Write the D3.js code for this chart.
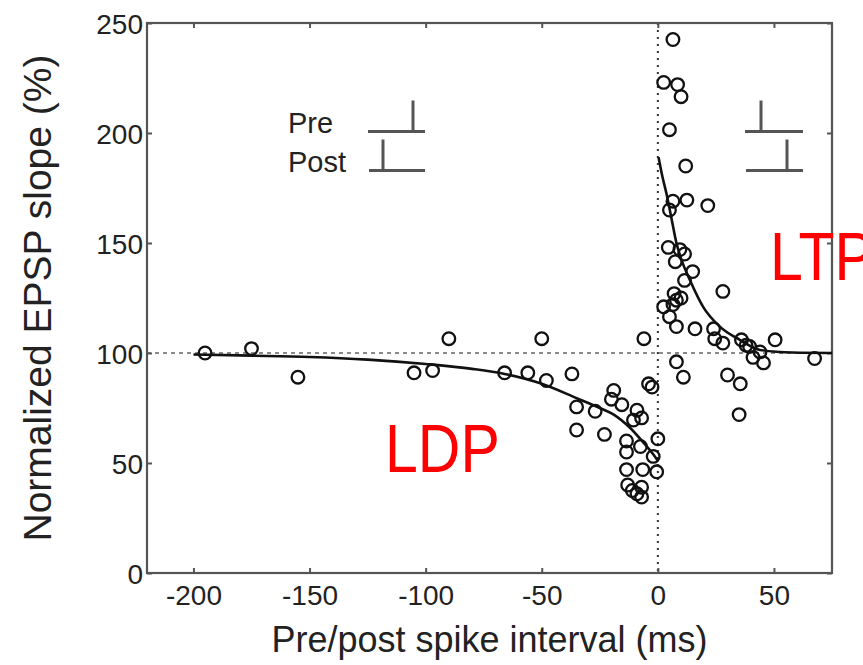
<!DOCTYPE html>
<html>
<head>
<meta charset="utf-8">
<script src="https://cdn.jsdelivr.net/npm/d3@7"></script>
<style>
  html, body { margin: 0; padding: 0; background: #fff; }
  svg { display: block; }
  text { font-family: "Liberation Sans", Arial, Helvetica, sans-serif; }
</style>
</head>
<body>
<svg id="chart" width="863" height="665"></svg>
<script>
// Spike-timing dependent plasticity: EPSP change vs. pre/post spike interval

// Individual experiments, negative intervals (post before pre)
const ldpInterval = [-195, -175, -155, -105, -97, -90, -66, -56, -48, -50, -37, -35, -35, -27, -23,
  -19, -20, -15.5, -13.5, -13.5, -13.5, -13, -9, -10.5, -7, -7.5, -6.5, -7, -9, -7, -6, -4, -2.5,
  -2, -0.5, 0, -11];
const ldpSlope = [100, 102, 89, 91, 92, 106.5, 91, 91, 87.5, 106.5, 90.5, 75.5, 65, 73.5, 63,
  83, 79, 76.5, 60, 55, 47, 40, 74, 69.5, 70.5, 57.5, 47, 39, 36, 34.5, 106.5, 86, 84.5,
  53, 46, 61, 37.5];

// Individual experiments, positive intervals (pre before post)
const ltpInterval = [6.5, 2.5, 8.5, 10, 5, 12, 21.5, 6.5, 12.5, 5, 4.5, 9.5, 11.5, 7.5, 15, 11.5,
  28, 8, 6.5, 2.5, 5, 8, 16, 24, 24.5, 28, 36, 39.5, 44, 45.5, 50.5, 67.5, 8, 11, 30, 35.5, 35,
  41, 38, 10, 7];
const ltpSlope = [242.5, 223, 222, 216.5, 201.5, 185, 167, 169, 169.5, 165, 148, 147, 145, 141.5,
  137, 133, 128, 124, 122, 121, 116.5, 112, 111, 111, 106.5, 104.5, 106, 103, 100.5, 95.5, 106,
  97.5, 96, 89, 90, 86, 72, 98, 103.5, 125, 127];

// Fitted curves
const ldpFitX = [-200, -175, -150, -125, -100, -80, -66, -50, -35, -25, -19, -12, -6, -2, 0];
const ldpFitY = [99.3, 98.8, 98.2, 97, 95, 92.8, 90.5, 86, 79.5, 75, 72, 66, 59, 54, 51];
const ltpFitX = [0.3, 2, 3.7, 6, 8, 10.2, 13.8, 19.5, 26.7, 35.3, 44, 58, 75];
const ltpFitY = [189, 180, 172.5, 160.5, 150, 142.3, 133.2, 121, 112, 106, 101.4, 100.2, 100];

// Axis ticks
const xTicks = [-200, -150, -100, -50, 0, 50];
const xTickLabels = ["-200", "-150", "-100", "-50", "0", "50"];
const yTicks = [0, 50, 100, 150, 200, 250];
const yTickLabels = ["0", "50", "100", "150", "200", "250"];

const svg = d3.select("#chart");
const plotLeft = 147, plotRight = 832, plotTop = 23, plotBottom = 573;

const x = d3.scaleLinear().domain([-220, 75]).range([plotLeft, plotRight]);
const y = d3.scaleLinear().domain([0, 250]).range([plotBottom, plotTop]);

const frameColor = "#555";

// Reference lines: baseline at 100 % and zero interval
svg.append("line")
  .attr("x1", plotLeft).attr("x2", plotRight)
  .attr("y1", y(100)).attr("y2", y(100))
  .attr("stroke", "#8a8a8a").attr("stroke-width", 2.2)
  .attr("stroke-dasharray", "4,4");
svg.append("line")
  .attr("x1", x(0)).attr("x2", x(0))
  .attr("y1", plotTop).attr("y2", plotBottom)
  .attr("stroke", "#333").attr("stroke-width", 2)
  .attr("stroke-dasharray", "2,5");

// Axes with inward ticks on all four sides
const tickLen = 5;
const gx = svg.append("g").attr("transform", `translate(0,${plotBottom})`)
  .call(d3.axisBottom(x).tickValues(xTicks).tickSizeInner(-tickLen).tickSizeOuter(0)
    .tickFormat((d, i) => xTickLabels[i]));
const gxTop = svg.append("g").attr("transform", `translate(0,${plotTop})`)
  .call(d3.axisTop(x).tickValues(xTicks).tickSizeInner(-tickLen).tickSizeOuter(0)
    .tickFormat(""));
const gy = svg.append("g").attr("transform", `translate(${plotLeft},0)`)
  .call(d3.axisLeft(y).tickValues(yTicks).tickSizeInner(-tickLen).tickSizeOuter(0)
    .tickFormat((d, i) => yTickLabels[i]));
const gyRight = svg.append("g").attr("transform", `translate(${plotRight},0)`)
  .call(d3.axisRight(y).tickValues(yTicks).tickSizeInner(-tickLen).tickSizeOuter(0)
    .tickFormat(""));

[gx, gxTop, gy, gyRight].forEach(g => {
  g.select(".domain").remove();
  g.selectAll(".tick line").attr("stroke", frameColor).attr("stroke-width", 2);
});
gx.selectAll(".tick text")
  .attr("font-size", 28).attr("fill", "#222")
  .attr("y", 12).attr("dy", "0.71em");
gy.selectAll(".tick text")
  .attr("font-size", 28).attr("fill", "#222")
  .attr("x", -4).attr("dy", "0.36em");

// Plot frame
svg.append("rect")
  .attr("x", plotLeft).attr("y", plotTop)
  .attr("width", plotRight - plotLeft).attr("height", plotBottom - plotTop)
  .attr("fill", "none").attr("stroke", frameColor).attr("stroke-width", 2.2);

// Fitted curves
const line = d3.line().x(d => x(d[0])).y(d => y(d[1])).curve(d3.curveMonotoneX);
svg.append("path")
  .datum(ldpFitX.map((v, i) => [v, ldpFitY[i]]))
  .attr("d", line).attr("fill", "none").attr("stroke", "#111").attr("stroke-width", 2.6);
svg.append("path")
  .datum(ltpFitX.map((v, i) => [v, ltpFitY[i]]))
  .attr("d", line).attr("fill", "none").attr("stroke", "#111").attr("stroke-width", 2.6);

// Data points
const points = ldpInterval.map((v, i) => [v, ldpSlope[i]])
  .concat(ltpInterval.map((v, i) => [v, ltpSlope[i]]));
svg.append("g").selectAll("circle").data(points).join("circle")
  .attr("cx", d => x(d[0])).attr("cy", d => y(d[1])).attr("r", 6.3)
  .attr("fill", "none").attr("stroke", "#111").attr("stroke-width", 2.3);

// Axis titles
svg.append("text")
  .attr("x", (plotLeft + plotRight) / 2).attr("y", 652)
  .attr("text-anchor", "middle").attr("font-size", 36).attr("fill", "#222")
  .text("Pre/post spike interval (ms)");
svg.append("text")
  .attr("transform", `translate(51,${(plotTop + plotBottom) / 2}) rotate(-90)`)
  .attr("text-anchor", "middle").attr("font-size", 39).attr("fill", "#222")
  .text("Normalized EPSP slope (%)");

// Spike-order icons
const icon = svg.append("g").attr("stroke", "#555").attr("stroke-width", 3).attr("fill", "none");
function spikeTrace(x0, x1, yBase, xSpike) {
  icon.append("line").attr("x1", x0).attr("x2", x1).attr("y1", yBase).attr("y2", yBase);
  icon.append("line").attr("x1", xSpike).attr("x2", xSpike).attr("y1", yBase - 31).attr("y2", yBase);
}
spikeTrace(368, 425, 131.5, 413);
spikeTrace(369, 425, 170.5, 383);
spikeTrace(745, 803, 131.5, 761);
spikeTrace(746, 803, 170.5, 787);

svg.append("text").attr("x", 288).attr("y", 133)
  .attr("font-size", 29).attr("fill", "#222").text("Pre");
svg.append("text").attr("x", 288).attr("y", 172)
  .attr("font-size", 29).attr("fill", "#222").text("Post");

// Region labels (slightly tall lettering)
svg.append("text").attr("transform", "translate(385,472) scale(1,1.15)")
  .attr("font-size", 59).attr("fill", "#ff0000").text("LDP");
svg.append("text").attr("transform", "translate(770,280) scale(1,1.15)")
  .attr("font-size", 59).attr("fill", "#ff0000").text("LTP");
</script>
</body>
</html>
